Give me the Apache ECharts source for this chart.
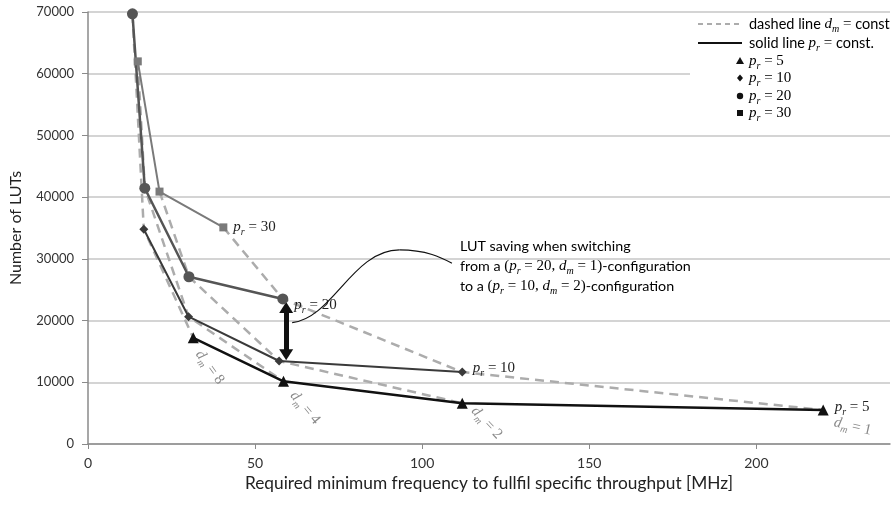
<!DOCTYPE html>
<html><head><meta charset="utf-8">
<script src="https://cdn.jsdelivr.net/npm/echarts@6/dist/echarts.min.js"></script>
<style>html,body{margin:0;padding:0;background:#fff}#c{width:893px;height:506px}</style>
</head><body><div id="c"></div><script>
// ---- data ----
const xTickLabels = [0, 50, 100, 150, 200];
const yTickValues = [0, 10000, 20000, 30000, 40000, 50000, 60000, 70000];
// solid lines p_r = const, points ordered d_m = 8, 4, 2, 1
const pr5X  = [31.5, 58.5, 112, 220];
const pr5Y  = [17200, 10150, 6600, 5500];
const pr10X = [16.7, 30.1, 57.2, 112];
const pr10Y = [34800, 20630, 13450, 11650];
const pr20X = [13.3, 17.0, 30.2, 58.3];
const pr20Y = [69700, 41450, 27100, 23500];
// p_r = 30 ordered d_m = 4, 2, 1
const pr30X = [14.9, 21.4, 40.5];
const pr30Y = [62000, 40900, 35100];
const prLabels = ['5', '10', '20', '30'];
const dmLabels = ['1', '2', '4', '8'];
// annotation (data coordinates)
const arrowX = 59.3, arrowFrom = 22100, arrowTo = 14450;
const curvePts = [[61.1, 19660], [73.3, 20420], [79.2, 31440], [93.2, 31440], [101.5, 31440], [105.9, 30150], [108.9, 29290]];
const noteLines = ['LUT saving when switching', 'from a (p_r = 20, d_m = 1)-configuration', 'to a (p_r = 10, d_m = 2)-configuration'];

const SERIF = "'Liberation Serif', 'DejaVu Serif', serif";
const SANS = "Lato, 'Open Sans', sans-serif";
function pts(xs, ys) { return xs.map((x, i) => [x, ys[i]]); }
function mathRich(fs, color, sansFs) {
  return {
    p: {fontFamily: SERIF, fontStyle: 'italic', fontSize: fs, color: color, lineHeight: 20},
    s: {fontFamily: SERIF, fontStyle: 'italic', fontSize: Math.round(fs * 0.68), color: color, lineHeight: 14, verticalAlign: 'bottom'},
    e: {fontFamily: SERIF, fontSize: fs, color: color, lineHeight: 20},
    t: {fontFamily: SANS, fontSize: sansFs || fs, color: color, lineHeight: 20}
  };
}
const prRich = mathRich(15, '#222');
const dmRich = mathRich(15, '#8a8a8a');

function solidSeries(xs, ys, prIdx, symbol, size, color, width, labelOffset) {
  const d = pts(xs, ys).map((v, i, arr) => {
    if (i !== arr.length - 1) return v;
    return {value: v, label: {show: true, position: 'right', distance: 6, offset: labelOffset,
      formatter: '{p|p}{s|r}{e| = ' + prLabels[prIdx] + '}', rich: prRich}};
  });
  return {type: 'line', data: d, symbol: symbol, symbolSize: size, z: 5,
    lineStyle: {color: color, width: width}, itemStyle: {color: color}, emphasis: {disabled: true}, silent: true};
}
// dashed lines d_m = const, ordered p_r = 30, 20, 10, 5
function dmPoints(k) {
  const out = [];
  const i30 = k - 1; // pr30 index for d_m (4->0, 2->1, 1->2)
  if (i30 >= 0 && i30 < 3) out.push([pr30X[i30], pr30Y[i30]]);
  out.push([pr20X[k], pr20Y[k]]);
  out.push([pr10X[k], pr10Y[k]]);
  out.push([pr5X[k], pr5Y[k]]);
  return out;
}
function dashedSeries(k, dmIdx, pos, rot) {
  const d = dmPoints(k).map((v, i, arr) => {
    if (i !== arr.length - 1) return v;
    return {value: v, label: {show: true, position: pos, rotate: rot, align: 'center', verticalAlign: 'middle',
      formatter: '{p|d}{s|m}{e| = ' + dmLabels[dmIdx] + '}', rich: dmRich}};
  });
  return {type: 'line', data: d, symbol: 'circle', symbolSize: 1, z: 3,
    itemStyle: {color: 'rgba(0,0,0,0)'}, lineStyle: {color: '#acacac', width: 2.5, type: [9, 6]},
    emphasis: {disabled: true}, silent: true};
}

const series = [
  dashedSeries(3, 0, [30, 17], -13),   // d_m = 1
  dashedSeries(2, 1, [25, 20], -47),   // d_m = 2
  dashedSeries(1, 2, [22, 27], -50),   // d_m = 4
  dashedSeries(0, 3, [17, 30], -54),   // d_m = 8
  solidSeries(pr30X, pr30Y, 3, 'rect', 8, '#7a7a7a', 2, [0, 0]),
  solidSeries(pr20X, pr20Y, 2, 'circle', 11, '#555555', 2.5, [0, 6]),
  solidSeries(pr10X, pr10Y, 1, 'diamond', 9, '#3a3a3a', 2, [0, -4]),
  solidSeries(pr5X, pr5Y, 0, 'triangle', 11, '#111111', 2.5, [0, -3])
];
series[6].markLine = {silent: true, symbol: ['triangle', 'triangle'], symbolSize: [14, 11], animation: false,
  lineStyle: {color: '#111', width: 5, type: 'solid'}, label: {show: false},
  data: [[{coord: [arrowX, arrowFrom]}, {coord: [arrowX, arrowTo]}]]};

const chart = echarts.init(document.getElementById('c'), null, {renderer: 'canvas'});
const legendRich = mathRich(15, '#111', 14.5);
const legendX = 749;
const legendRows = [24, 43, 61, 78, 96, 113];
const legendTexts = [
  '{t|dashed line }{p|d}{s|m}{e| = }{t|const}',
  '{t|solid line }{p|p}{s|r}{e| = }{t|const.}',
  '{p|p}{s|r}{e| = 5}', '{p|p}{s|r}{e| = 10}', '{p|p}{s|r}{e| = 20}', '{p|p}{s|r}{e| = 30}'
];
const graphics = [
  {type: 'rect', id: 'lgbg', z: 20, silent: true, shape: {x: 690, y: 16, width: 203, height: 110}, style: {fill: '#fff'}},
  {type: 'line', id: 'lgd', z: 21, silent: true, shape: {x1: 698, y1: legendRows[0], x2: 742, y2: legendRows[0]}, style: {stroke: '#acacac', lineWidth: 2, lineDash: [5, 4]}},
  {type: 'line', id: 'lgs', z: 21, silent: true, shape: {x1: 698, y1: legendRows[1], x2: 742, y2: legendRows[1]}, style: {stroke: '#111', lineWidth: 2}},
  {type: 'polygon', id: 'lg5', z: 21, silent: true, shape: {points: [[740, legendRows[2] - 4], [744, legendRows[2] + 3], [736, legendRows[2] + 3]]}, style: {fill: '#111'}},
  {type: 'polygon', id: 'lg10', z: 21, silent: true, shape: {points: [[740, legendRows[3] - 3.5], [743, legendRows[3]], [740, legendRows[3] + 3.5], [737, legendRows[3]]]}, style: {fill: '#111'}},
  {type: 'circle', id: 'lg20', z: 21, silent: true, shape: {cx: 740, cy: legendRows[4], r: 3.2}, style: {fill: '#111'}},
  {type: 'rect', id: 'lg30', z: 21, silent: true, shape: {x: 737, y: legendRows[5] - 3, width: 6, height: 6}, style: {fill: '#111'}}
];
legendTexts.forEach((t, i) => graphics.push({type: 'text', id: 'lgt' + i, z: 21, silent: true, x: legendX, y: legendRows[i],
  style: {text: t, rich: legendRich, verticalAlign: 'middle', align: 'left'}}));

const noteRich = mathRich(15, '#111', 14.3);
function noteRichLine(s) {
  return s.replace(/\((p)_r = (\d+), (d)_m = (\d+)\)/, '{e|(}{p|p}{s|r}{e| = $2, }{p|d}{s|m}{e| = $4)}')
          .replace(/^([^{]*)(\{e\|\()/, '{t|$1}$2')
          .replace(/\)\}(-configuration)$/, ')}{t|$1}');
}
const noteText = noteLines.map((l, i) => i === 0 ? '{t|' + l + '}' : noteRichLine(l)).join('\n');
graphics.push({type: 'text', id: 'note', z: 21, silent: true, x: 460, y: 236,
  style: {text: noteText, rich: noteRich, verticalAlign: 'top', align: 'left'}});

chart.setOption({
  animation: false,
  backgroundColor: '#fff',
  grid: {left: 84, right: 3, top: 12, bottom: 62, containLabel: false},
  xAxis: {type: 'value', min: 0, max: 240, interval: 50,
    name: 'Required minimum frequency to fullfil specific throughput [MHz]', nameLocation: 'middle', nameGap: 31,
    nameTextStyle: {fontFamily: SANS, fontSize: 17.3, color: '#222'},
    axisLine: {show: true, lineStyle: {color: '#8a8a8a', width: 1.5}},
    axisTick: {show: true, length: 5, lineStyle: {color: '#8a8a8a'}, customValues: xTickLabels},
    axisLabel: {margin: 12, fontFamily: SANS, fontSize: 14, color: '#333', customValues: xTickLabels},
    splitLine: {show: false}},
  yAxis: {type: 'value', min: 0, max: 70000, interval: 10000,
    name: 'Number of LUTs', nameLocation: 'middle', nameGap: 64,
    nameTextStyle: {fontFamily: SANS, fontSize: 16, color: '#222'},
    axisLine: {show: true, lineStyle: {color: '#8a8a8a', width: 1.5}},
    axisTick: {show: true, length: 6, lineStyle: {color: '#8a8a8a'}, customValues: yTickValues},
    axisLabel: {margin: 14, fontFamily: SANS, fontSize: 13, color: '#333', customValues: yTickValues,
      formatter: v => String(v)},
    splitLine: {show: true, lineStyle: {color: '#c6c6c6', width: 1.5}}},
  series: series,
  graphic: graphics
});

// connector curve of the annotation, placed through the axes' scales
const cp = curvePts.map(p => chart.convertToPixel({gridIndex: 0}, p));
chart.setOption({graphic: [
  {type: 'bezierCurve', id: 'cv1', z: 21, silent: true,
    shape: {x1: cp[0][0], y1: cp[0][1], cpx1: cp[1][0], cpy1: cp[1][1], cpx2: cp[2][0], cpy2: cp[2][1], x2: cp[3][0], y2: cp[3][1]},
    style: {stroke: '#111', lineWidth: 1.2, fill: null}},
  {type: 'bezierCurve', id: 'cv2', z: 21, silent: true,
    shape: {x1: cp[3][0], y1: cp[3][1], cpx1: cp[4][0], cpy1: cp[4][1], cpx2: cp[5][0], cpy2: cp[5][1], x2: cp[6][0], y2: cp[6][1]},
    style: {stroke: '#111', lineWidth: 1.2, fill: null}}
]});
</script></body></html>
